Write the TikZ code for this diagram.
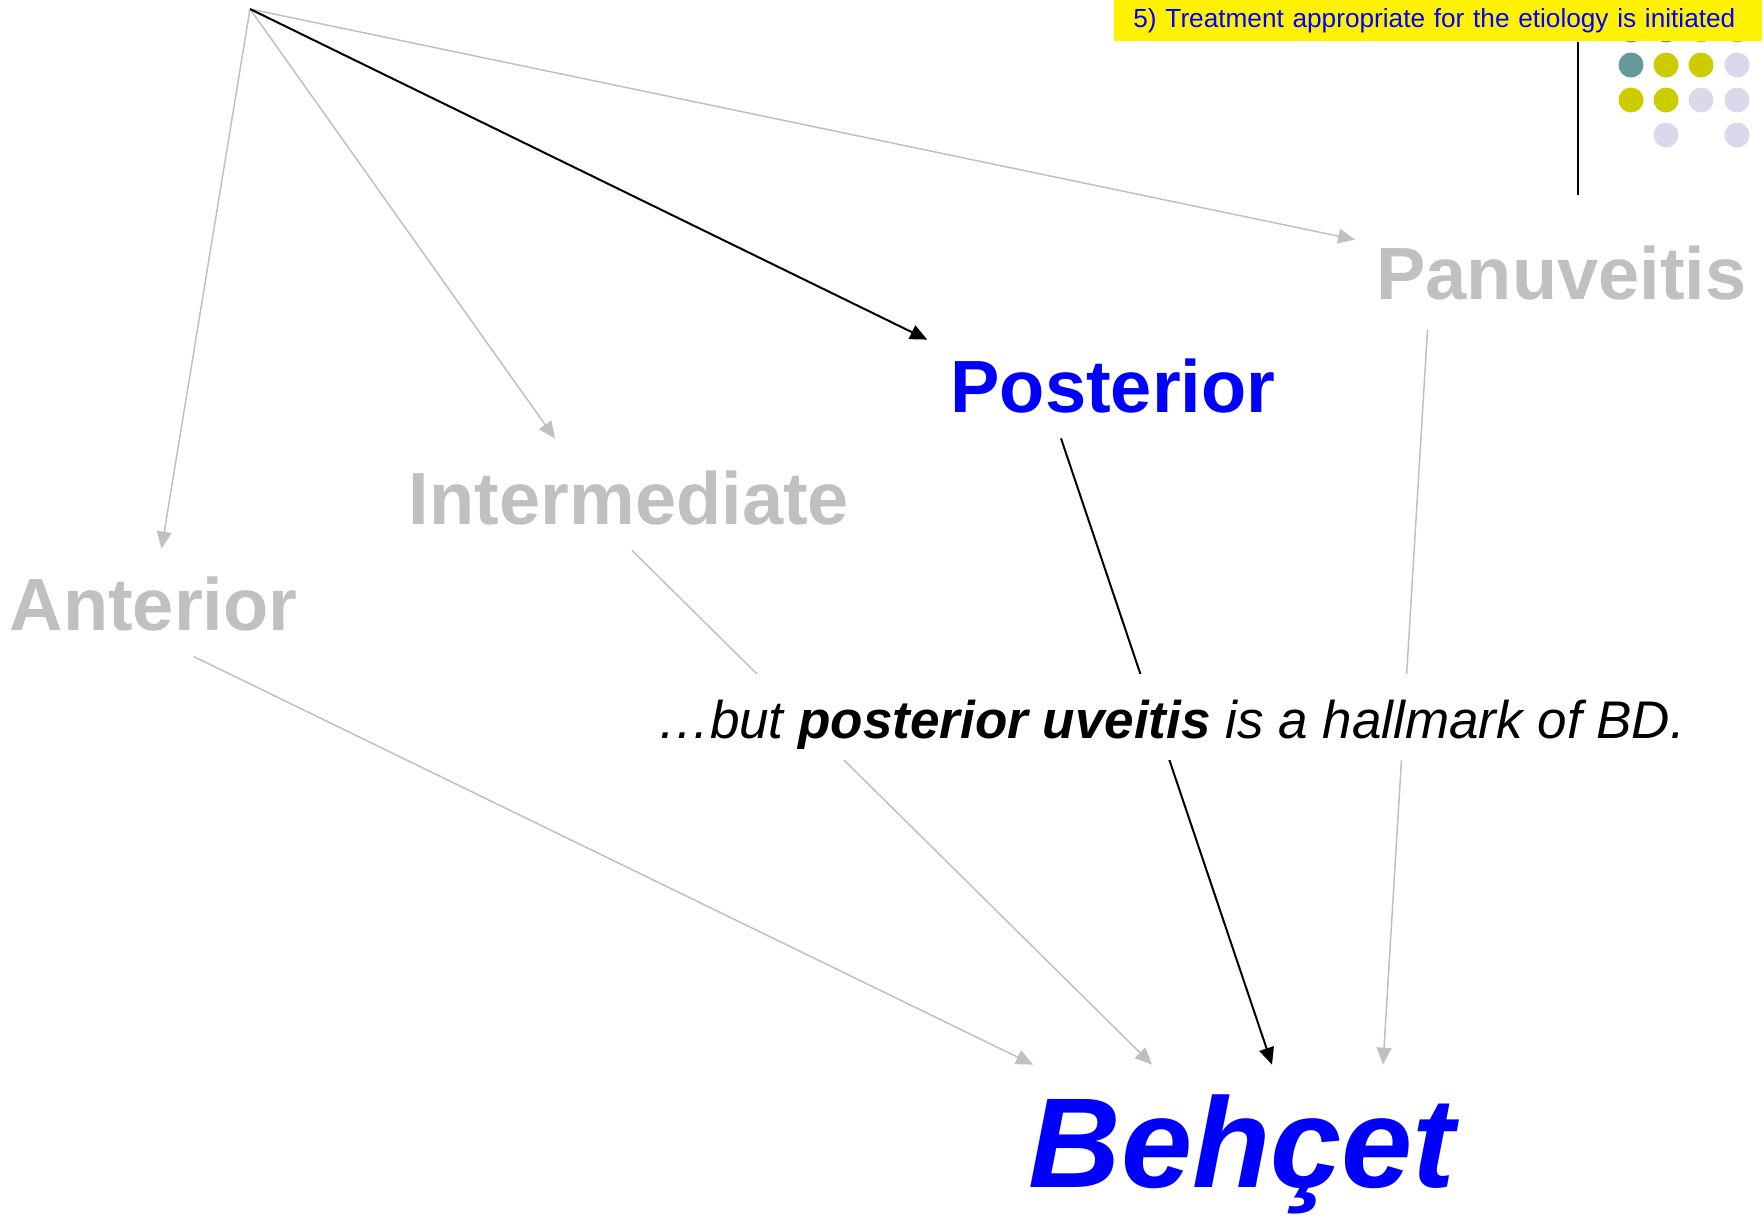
\documentclass[tikz,border=0pt]{standalone}
\usepackage{fontspec}
\setmainfont{Liberation Sans}
\usetikzlibrary{arrows.meta,calc}

\definecolor{paleGray}{HTML}{C0C0C0}
\definecolor{dotTeal}{HTML}{669999}
\definecolor{dotOlive}{HTML}{CCCC00}
\definecolor{dotLilac}{HTML}{D9D9EB}

\begin{document}
\begin{tikzpicture}[x=0.5pt,y=-0.5pt]

	\tikzstyle{kind} = [anchor=base, inner sep=0, text height=26.5pt, text depth=13pt,
		font=\fontsize{37}{44}\selectfont\bfseries, text=paleGray]
	\tikzstyle{faint} = [draw=paleGray, line width=0.75pt, -{Triangle[length=8.5pt,width=7.5pt]}]
	\tikzstyle{strong} = [draw=black, line width=1pt, -{Triangle[length=8.5pt,width=7.5pt]}]

	\useasboundingbox (0,0) rectangle (1764,1217);

	% dot grid, top right
	\foreach \x/\y/\c in {1631/30/dotTeal, 1666/30/dotTeal, 1701/30/dotOlive, 1737/30/dotOlive,
		1631/65/dotTeal, 1666/65/dotOlive, 1701/65/dotOlive, 1737/65/dotLilac,
		1631/100/dotOlive, 1666/100/dotOlive, 1701/100/dotLilac, 1737/100/dotLilac,
		1666/135/dotLilac, 1737/135/dotLilac}
		\fill[\c] (\x,\y) circle (6.25pt);

	\node (note) [anchor=north west, fill=yellow, text=blue, align=left,
		inner xsep=9.5pt, inner ysep=0, text width=305pt, minimum height=20.5pt,
		font=\fontsize{13.1}{15}\selectfont] at (1114,0)
		{5) Treatment appropriate for the etiology is initiated};

	\coordinate (tick) at (1578,195);
	\draw [line width=1pt] (note.south -| tick) -- (tick);

	% uveitis by location
	\coordinate (root) at (250,9);
	\node[kind] (anterior) at (153.5,630) {Anterior};
	\node[kind] (intermediate) at (629,524) {Intermediate};
	\node[kind,text=blue] (posterior) at (1113,412) {Posterior};
	\node[kind] (panuveitis) at (1561.5,299) {Panuveitis};

	\node (behcet) [anchor=base, inner sep=0, text height=61pt, text=blue,
		font=\fontsize{64}{70}\selectfont\bfseries\itshape] at (1242,1187) {Behçet};

	\draw [faint] (root) -- ([xshift=4pt,yshift=14pt]anterior.north);
	\draw [faint] (root) -- ([xshift=-37pt,yshift=16pt]intermediate.north);
	\draw [faint] (root) -- ([xshift=-10.5pt,yshift=3pt]panuveitis.north west);
	\draw [strong] (root) -- ([xshift=-11.5pt,yshift=9.5pt]posterior.north west);

	\draw [faint] ([xshift=20pt]anterior.south) -- ([xshift=-104.5pt]behcet.north);
	\draw [faint] ([xshift=1.5pt]intermediate.south) -- ([xshift=-45pt]behcet.north);
	\draw [faint] ([xshift=-67pt,yshift=-2pt]panuveitis.south) -- ([xshift=70.5pt]behcet.north);
	\draw [strong] ([xshift=-26pt]posterior.south) -- ([xshift=15pt]behcet.north);

	% caption over the lines
	\node (hallmark) [anchor=base, fill=white, inner xsep=4pt, inner ysep=0,
		text height=32pt, text depth=11pt, font=\fontsize{26.5}{32}\selectfont\itshape]
		at (1171,738) {…but \textbf{posterior uveitis} is a hallmark of BD.};

\end{tikzpicture}
\end{document}
